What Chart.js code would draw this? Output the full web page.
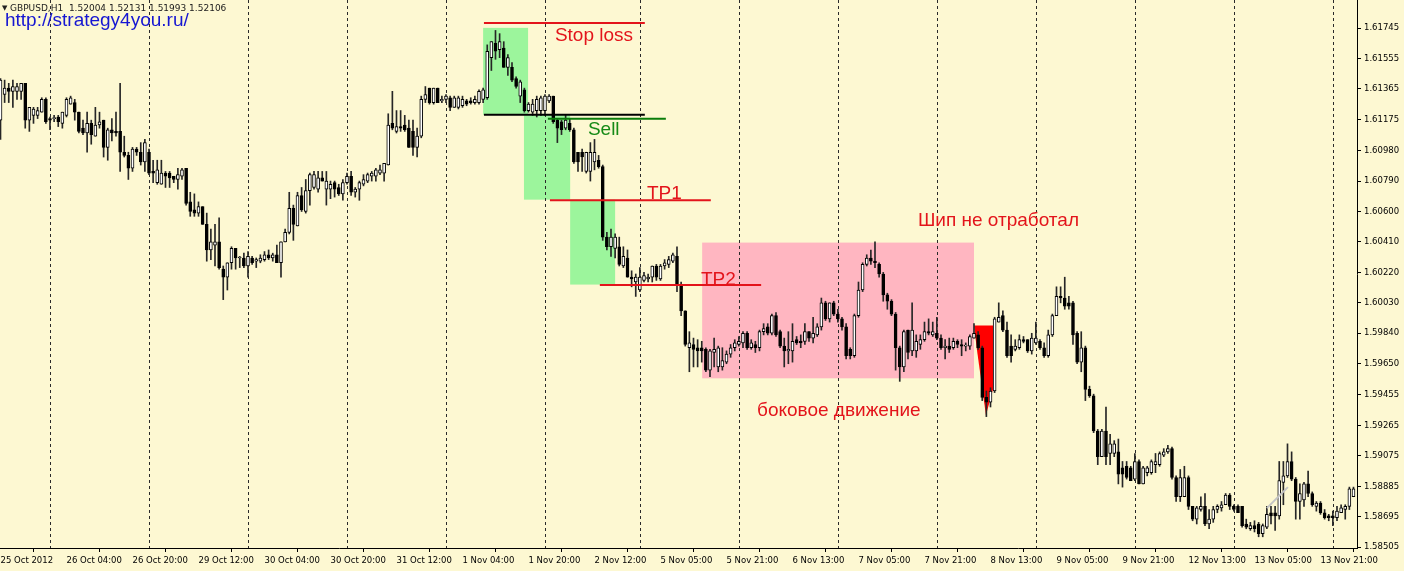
<!DOCTYPE html>
<html>
<head>
<meta charset="utf-8">
<title>GBPUSD H1</title>
<script src="https://cdn.jsdelivr.net/npm/chart.js@4.4.0/dist/chart.umd.min.js"></script>
<style>
  html, body { margin: 0; padding: 0; background: #fdf8d2; }
  #chart { display: block; }
</style>
</head>
<body>
<canvas id="chart" width="1404" height="571"></canvas>
<script>
// --- tick labels ---
const xTickLabels = ['25 Oct 2012', '26 Oct 04:00', '26 Oct 20:00', '29 Oct 12:00', '30 Oct 04:00',
    '30 Oct 20:00', '31 Oct 12:00', '1 Nov 04:00', '1 Nov 20:00', '2 Nov 12:00', '5 Nov 05:00',
    '5 Nov 21:00', '6 Nov 13:00', '7 Nov 05:00', '7 Nov 21:00', '8 Nov 13:00', '9 Nov 05:00',
    '9 Nov 21:00', '12 Nov 13:00', '13 Nov 05:00', '13 Nov 21:00'];
const xTickStep = 16; // one label every 16 hourly bars
const yTickValues = [1.61745, 1.61555, 1.61365, 1.61175, 1.60980, 1.60790, 1.60600, 1.60410, 1.60220,
    1.60030, 1.59840, 1.59650, 1.59455, 1.59265, 1.59075, 1.58885, 1.58695, 1.58505];
// bar index of the first hour of each trading day (dotted separators)
const dayStarts = [12, 36, 60, 84, 108, 132, 155, 179, 203, 227, 251, 275, 299, 323];

// --- GBPUSD H1 candles ---
const openPrices = [
    1.6117,1.6133,1.6137,1.6135,1.6135,1.6135,1.6140,1.6117,1.6120,1.6120,
    1.6122,1.6130,1.6118,1.6118,1.6119,1.6115,1.6120,1.6127,1.6128,1.6122,
    1.6112,1.6109,1.6115,1.6107,1.6114,1.6117,1.6100,1.6111,1.6110,1.6110,
    1.6097,1.6095,1.6087,1.6099,1.6097,1.6091,1.6097,1.6085,1.6078,1.6077,
    1.6084,1.6084,1.6082,1.6080,1.6082,1.6087,1.6066,1.6061,1.6059,1.6063,
    1.6052,1.6036,1.6039,1.6041,1.6024,1.6019,1.6028,1.6037,1.6031,1.6031,
    1.6026,1.6031,1.6029,1.6029,1.6030,1.6033,1.6031,1.6033,1.6028,1.6041,
    1.6047,1.6062,1.6051,1.6070,1.6060,1.6073,1.6075,1.6074,1.6081,1.6074,
    1.6074,1.6078,1.6075,1.6071,1.6078,1.6082,1.6072,1.6074,1.6077,1.6079,
    1.6082,1.6082,1.6084,1.6084,1.6089,1.6115,1.6110,1.6113,1.6114,1.6112,
    1.6110,1.6100,1.6107,1.6130,1.6137,1.6128,1.6137,1.6129,1.6130,1.6131,
    1.6125,1.6125,1.6126,1.6129,1.6129,1.6128,1.6128,1.6130,1.6131,1.6156,
    1.6165,1.6161,1.6162,1.6150,1.6150,1.6143,1.6132,1.6136,1.6123,1.6122,
    1.6123,1.6123,1.6123,1.6129,1.6132,1.6117,1.6116,1.6112,1.6115,1.6111,
    1.6097,1.6097,1.6085,1.6085,1.6091,1.6092,1.6088,1.6044,1.6038,1.6037,
    1.6038,1.6026,1.6031,1.6019,1.6016,1.6011,1.6017,1.6018,1.6019,1.6026,
    1.6018,1.6026,1.6027,1.6029,1.6032,1.6014,1.5998,1.5975,1.5977,1.5975,
    1.5975,1.5974,1.5961,1.5972,1.5963,1.5963,1.5966,1.5971,1.5975,1.5977,
    1.5978,1.5984,1.5975,1.5977,1.5975,1.5985,1.5988,1.5984,1.5995,1.5985,
    1.5976,1.5973,1.5973,1.5980,1.5979,1.5979,1.5985,1.5981,1.5983,1.5988,
    1.6003,1.5993,1.6003,1.5996,1.5993,1.5988,1.5974,1.5970,1.5995,1.6011,
    1.6027,1.6031,1.6029,1.6027,1.6021,1.6008,1.6004,1.5996,1.5975,1.5963,
    1.5986,1.5973,1.5973,1.5977,1.5980,1.5985,1.5983,1.5984,1.5981,1.5975,
    1.5976,1.5975,1.5979,1.5977,1.5976,1.5976,1.5981,1.5983,1.5975,1.5944,
    1.5941,1.5948,1.5991,1.5995,1.5986,1.5976,1.5974,1.5975,1.5980,1.5980,
    1.5973,1.5978,1.5979,1.5975,1.5970,1.5983,1.5995,1.6007,1.6006,1.6003,
    1.6003,1.5984,1.5966,1.5975,1.5949,1.5945,1.5923,1.5907,1.5923,1.5909,
    1.5909,1.5910,1.5900,1.5901,1.5900,1.5893,1.5904,1.5890,1.5897,1.5897,
    1.5902,1.5902,1.5908,1.5910,1.5912,1.5894,1.5882,1.5882,1.5894,1.5876,
    1.5868,1.5874,1.5876,1.5865,1.5868,1.5874,1.5875,1.5877,1.5883,1.5876,
    1.5876,1.5876,1.5865,1.5862,1.5864,1.5865,1.5859,1.5863,1.5872,1.5872,
    1.5870,1.5891,1.5895,1.5904,1.5893,1.5879,1.5880,1.5890,1.5884,1.5876,
    1.5878,1.5872,1.5870,1.5870,1.5869,1.5872,1.5874,1.5876,1.5882
];
const highPrices = [
    1.6143,1.6142,1.6140,1.6142,1.6140,1.6140,1.6140,1.6125,1.6125,1.6125,
    1.6131,1.6131,1.6119,1.6120,1.6120,1.6122,1.6131,1.6132,1.6130,1.6122,
    1.6117,1.6122,1.6117,1.6125,1.6122,1.6117,1.6112,1.6118,1.6122,1.6140,
    1.6107,1.6097,1.6100,1.6100,1.6103,1.6105,1.6099,1.6092,1.6092,1.6092,
    1.6085,1.6085,1.6082,1.6087,1.6087,1.6087,1.6072,1.6071,1.6066,1.6063,
    1.6059,1.6049,1.6052,1.6056,1.6026,1.6028,1.6038,1.6037,1.6032,1.6034,
    1.6035,1.6032,1.6031,1.6033,1.6035,1.6036,1.6034,1.6039,1.6041,1.6049,
    1.6072,1.6064,1.6072,1.6075,1.6080,1.6084,1.6085,1.6085,1.6085,1.6085,
    1.6079,1.6079,1.6077,1.6080,1.6084,1.6085,1.6075,1.6079,1.6083,1.6084,
    1.6085,1.6087,1.6089,1.6090,1.6121,1.6135,1.6123,1.6123,1.6120,1.6117,
    1.6117,1.6112,1.6132,1.6138,1.6137,1.6137,1.6137,1.6132,1.6133,1.6132,
    1.6132,1.6132,1.6132,1.6130,1.6131,1.6132,1.6136,1.6137,1.6164,1.6166,
    1.6173,1.6171,1.6166,1.6158,1.6153,1.6144,1.6142,1.6137,1.6128,1.6130,
    1.6132,1.6132,1.6133,1.6133,1.6132,1.6118,1.6117,1.6120,1.6118,1.6112,
    1.6097,1.6099,1.6097,1.6103,1.6105,1.6095,1.6089,1.6047,1.6049,1.6046,
    1.6044,1.6038,1.6036,1.6023,1.6021,1.6025,1.6022,1.6021,1.6026,1.6027,
    1.6027,1.6030,1.6032,1.6034,1.6038,1.6016,1.5998,1.5985,1.5981,1.5980,
    1.5979,1.5975,1.5974,1.5981,1.5976,1.5975,1.5973,1.5977,1.5980,1.5982,
    1.5985,1.5985,1.5980,1.5979,1.5986,1.5990,1.5990,1.5996,1.5997,1.5986,
    1.5981,1.5985,1.5990,1.5982,1.5983,1.5990,1.5985,1.5994,1.5990,1.6006,
    1.6004,1.6003,1.6004,1.5999,1.5994,1.5990,1.5975,1.5996,1.6016,1.6028,
    1.6033,1.6036,1.6041,1.6028,1.6022,1.6009,1.6005,1.5997,1.5976,1.5986,
    1.5986,1.6003,1.5983,1.5983,1.5991,1.5993,1.5991,1.5994,1.5983,1.5980,
    1.5981,1.5981,1.5980,1.5980,1.5978,1.5983,1.5990,1.5985,1.5976,1.5948,
    1.5950,1.5994,1.6003,1.5998,1.5991,1.5983,1.5980,1.5983,1.5982,1.5980,
    1.5984,1.5991,1.5980,1.5978,1.5986,1.5996,1.6013,1.6013,1.6019,1.6007,
    1.6004,1.5985,1.5985,1.5976,1.5951,1.5946,1.5924,1.5924,1.5938,1.5921,
    1.5917,1.5918,1.5904,1.5904,1.5901,1.5909,1.5905,1.5901,1.5901,1.5905,
    1.5909,1.5910,1.5912,1.5914,1.5913,1.5895,1.5899,1.5901,1.5895,1.5876,
    1.5876,1.5882,1.5884,1.5874,1.5876,1.5877,1.5879,1.5884,1.5884,1.5877,
    1.5877,1.5876,1.5868,1.5866,1.5867,1.5866,1.5865,1.5876,1.5876,1.5876,
    1.5904,1.5904,1.5915,1.5910,1.5894,1.5890,1.5891,1.5898,1.5885,1.5879,
    1.5879,1.5874,1.5871,1.5873,1.5876,1.5877,1.5877,1.5888,1.5888
];
const lowPrices = [
    1.6105,1.6128,1.6128,1.6125,1.6130,1.6130,1.6112,1.6110,1.6115,1.6118,
    1.6122,1.6115,1.6111,1.6116,1.6113,1.6112,1.6119,1.6127,1.6117,1.6109,
    1.6108,1.6097,1.6102,1.6107,1.6112,1.6094,1.6092,1.6104,1.6107,1.6085,
    1.6094,1.6080,1.6085,1.6095,1.6089,1.6085,1.6083,1.6078,1.6077,1.6077,
    1.6075,1.6075,1.6078,1.6074,1.6080,1.6064,1.6057,1.6057,1.6057,1.6052,
    1.6029,1.6030,1.6026,1.6024,1.6005,1.6011,1.6024,1.6024,1.6025,1.6025,
    1.6019,1.6027,1.6025,1.6028,1.6029,1.6030,1.6029,1.6028,1.6019,1.6041,
    1.6046,1.6042,1.6051,1.6060,1.6059,1.6064,1.6074,1.6072,1.6079,1.6064,
    1.6068,1.6069,1.6070,1.6067,1.6077,1.6070,1.6069,1.6067,1.6076,1.6078,
    1.6079,1.6079,1.6083,1.6079,1.6089,1.6111,1.6109,1.6110,1.6110,1.6100,
    1.6095,1.6094,1.6106,1.6128,1.6127,1.6127,1.6128,1.6128,1.6128,1.6123,
    1.6125,1.6124,1.6125,1.6126,1.6127,1.6127,1.6127,1.6128,1.6130,1.6148,
    1.6155,1.6156,1.6150,1.6145,1.6141,1.6137,1.6128,1.6122,1.6122,1.6120,
    1.6119,1.6120,1.6120,1.6128,1.6115,1.6103,1.6108,1.6111,1.6110,1.6090,
    1.6085,1.6085,1.6084,1.6079,1.6086,1.6087,1.6042,1.6036,1.6032,1.6031,
    1.6026,1.6025,1.6019,1.6013,1.6007,1.6010,1.6016,1.6016,1.6016,1.6017,
    1.6017,1.6024,1.6025,1.6028,1.6010,1.5995,1.5976,1.5960,1.5963,1.5963,
    1.5966,1.5960,1.5957,1.5963,1.5960,1.5961,1.5965,1.5969,1.5973,1.5976,
    1.5975,1.5974,1.5974,1.5972,1.5973,1.5983,1.5983,1.5983,1.5982,1.5975,
    1.5963,1.5965,1.5966,1.5977,1.5975,1.5977,1.5979,1.5978,1.5982,1.5986,
    1.5992,1.5991,1.5995,1.5991,1.5986,1.5968,1.5968,1.5969,1.5994,1.6010,
    1.6026,1.6027,1.6025,1.6019,1.6004,1.5999,1.5995,1.5961,1.5954,1.5960,
    1.5968,1.5970,1.5969,1.5974,1.5979,1.5983,1.5982,1.5980,1.5974,1.5968,
    1.5972,1.5974,1.5975,1.5970,1.5973,1.5974,1.5981,1.5974,1.5942,1.5932,
    1.5938,1.5947,1.5991,1.5985,1.5969,1.5966,1.5973,1.5974,1.5978,1.5972,
    1.5971,1.5977,1.5974,1.5969,1.5969,1.5982,1.5995,1.6003,1.5999,1.5999,
    1.5977,1.5965,1.5960,1.5942,1.5944,1.5922,1.5902,1.5907,1.5902,1.5902,
    1.5907,1.5890,1.5888,1.5893,1.5892,1.5892,1.5890,1.5890,1.5895,1.5896,
    1.5897,1.5901,1.5907,1.5909,1.5893,1.5879,1.5879,1.5882,1.5874,1.5867,
    1.5865,1.5873,1.5864,1.5862,1.5866,1.5872,1.5873,1.5877,1.5874,1.5873,
    1.5872,1.5863,1.5862,1.5861,1.5860,1.5857,1.5857,1.5862,1.5865,1.5861,
    1.5868,1.5877,1.5894,1.5892,1.5868,1.5868,1.5876,1.5882,1.5876,1.5873,
    1.5871,1.5868,1.5867,1.5864,1.5867,1.5872,1.5868,1.5874,1.5882
];
const closePrices = [
    1.6142,1.6137,1.6135,1.6138,1.6138,1.6140,1.6117,1.6125,1.6124,1.6123,
    1.6130,1.6116,1.6117,1.6118,1.6116,1.6122,1.6130,1.6131,1.6122,1.6110,
    1.6109,1.6115,1.6108,1.6114,1.6116,1.6100,1.6111,1.6109,1.6109,1.6097,
    1.6095,1.6087,1.6099,1.6097,1.6091,1.6103,1.6084,1.6084,1.6086,1.6084,
    1.6082,1.6081,1.6080,1.6083,1.6086,1.6065,1.6060,1.6059,1.6063,1.6052,
    1.6036,1.6041,1.6041,1.6025,1.6019,1.6028,1.6037,1.6031,1.6031,1.6026,
    1.6032,1.6028,1.6030,1.6031,1.6033,1.6031,1.6033,1.6028,1.6041,1.6047,
    1.6062,1.6052,1.6070,1.6061,1.6073,1.6083,1.6083,1.6081,1.6079,1.6079,
    1.6077,1.6074,1.6071,1.6078,1.6082,1.6072,1.6074,1.6078,1.6080,1.6083,
    1.6084,1.6086,1.6086,1.6090,1.6114,1.6112,1.6113,1.6112,1.6111,1.6100,
    1.6100,1.6107,1.6130,1.6133,1.6128,1.6137,1.6128,1.6130,1.6132,1.6125,
    1.6131,1.6131,1.6130,1.6127,1.6128,1.6130,1.6135,1.6136,1.6160,1.6166,
    1.6160,1.6166,1.6150,1.6156,1.6142,1.6138,1.6141,1.6123,1.6127,1.6127,
    1.6130,1.6131,1.6132,1.6132,1.6116,1.6112,1.6111,1.6117,1.6111,1.6091,
    1.6091,1.6094,1.6097,1.6097,1.6097,1.6088,1.6044,1.6038,1.6044,1.6044,
    1.6027,1.6032,1.6019,1.6018,1.6019,1.6019,1.6020,1.6019,1.6026,1.6019,
    1.6026,1.6028,1.6030,1.6033,1.6014,1.5998,1.5977,1.5978,1.5974,1.5973,
    1.5973,1.5961,1.5973,1.5974,1.5975,1.5967,1.5971,1.5975,1.5978,1.5979,
    1.5984,1.5975,1.5978,1.5975,1.5985,1.5987,1.5984,1.5995,1.5983,1.5976,
    1.5973,1.5974,1.5979,1.5978,1.5978,1.5985,1.5981,1.5984,1.5988,1.6003,
    1.5993,1.6003,1.5996,1.5993,1.5988,1.5970,1.5970,1.5995,1.6011,1.6027,
    1.6031,1.6029,1.6028,1.6021,1.6008,1.6004,1.5996,1.5975,1.5963,1.5985,
    1.5972,1.5986,1.5979,1.5980,1.5985,1.5984,1.5985,1.5981,1.5975,1.5976,
    1.5974,1.5979,1.5977,1.5976,1.5976,1.5982,1.5984,1.5975,1.5944,1.5941,
    1.5948,1.5993,1.5994,1.5986,1.5970,1.5970,1.5976,1.5980,1.5979,1.5973,
    1.5981,1.5981,1.5975,1.5970,1.5983,1.5995,1.6007,1.6006,1.6001,1.6001,
    1.5983,1.5966,1.5975,1.5949,1.5945,1.5923,1.5907,1.5923,1.5907,1.5915,
    1.5915,1.5896,1.5896,1.5894,1.5892,1.5904,1.5890,1.5900,1.5900,1.5904,
    1.5904,1.5909,1.5910,1.5912,1.5894,1.5882,1.5894,1.5894,1.5876,1.5868,
    1.5875,1.5876,1.5865,1.5868,1.5874,1.5876,1.5877,1.5883,1.5876,1.5874,
    1.5872,1.5864,1.5863,1.5864,1.5862,1.5859,1.5864,1.5871,1.5870,1.5870,
    1.5892,1.5895,1.5904,1.5893,1.5879,1.5884,1.5890,1.5884,1.5877,1.5878,
    1.5872,1.5869,1.5869,1.5869,1.5873,1.5875,1.5876,1.5887,1.5887
];

// --- drawn objects on the chart (bar index / price) ---
const zones = [
    { from: 117.0, to: 127.9, top: 1.61746, bottom: 1.61204, color: '#9cf59c' },
    { from: 126.9, to: 138.1, top: 1.61204, bottom: 1.60674, color: '#9cf59c' },
    { from: 138.1, to: 149.0, top: 1.60674, bottom: 1.60144, color: '#9cf59c' },
    { from: 170.1, to: 236.0, top: 1.60406, bottom: 1.59559, color: '#ffb6c1' }
];
const spikeShape = [[236.0, 1.59889], [240.85, 1.59889], [240.6, 1.59490], [238.9, 1.59328], [236.7, 1.59740]];
const levels = [
    { from: 117.2, to: 156.2, price: 1.61777, color: '#e3141b' },   // stop loss
    { from: 117.2, to: 156.2, price: 1.61204, color: '#000000' },   // entry
    { from: 132.7, to: 161.3, price: 1.61179, color: '#0a7d0a' },   // sell
    { from: 133.2, to: 172.2, price: 1.60671, color: '#e3141b' },   // TP1
    { from: 145.3, to: 184.4, price: 1.60141, color: '#e3141b' }    // TP2
];
const trendLine = [[307.0, 1.58749], [312.1, 1.58880]];
const notes = [
    { text: 'Stop loss', at: 134.4, price: 1.61665, color: '#e3141b' },
    { text: 'Sell', at: 142.4, price: 1.61079, color: '#168a16' },
    { text: 'TP1', at: 156.7, price: 1.60680, color: '#e3141b' },
    { text: 'TP2', at: 169.8, price: 1.60144, color: '#e3141b' },
    { text: 'Шип не отработал', at: 222.4, price: 1.60512, color: '#e3141b' },
    { text: 'боковое движение', at: 183.4, price: 1.59322, color: '#e3141b' }
];

const BG = '#fdf8d2';
const tickFont = { family: '"DejaVu Sans", Verdana, sans-serif', size: 8.5 };

const idx = openPrices.map((_, i) => i);
const isUp = idx.map(i => closePrices[i] >= openPrices[i]);

const overlayPlugin = {
    id: 'overlay',
    beforeDraw(chart) {
        const ctx = chart.ctx;
        ctx.save();
        ctx.fillStyle = BG;
        ctx.fillRect(0, 0, chart.width, chart.height);
        ctx.restore();
    },
    beforeDatasetsDraw(chart) {
        const { ctx, chartArea: area, scales: { x, y } } = chart;
        ctx.save();
        zones.forEach(z => {
            const x0 = x.getPixelForValue(z.from), x1 = x.getPixelForValue(z.to);
            const y0 = y.getPixelForValue(z.top), y1 = y.getPixelForValue(z.bottom);
            ctx.fillStyle = z.color;
            ctx.fillRect(x0, y0, x1 - x0, y1 - y0);
        });
        ctx.fillStyle = '#ff0000';
        ctx.beginPath();
        spikeShape.forEach((p, k) => {
            const px = x.getPixelForValue(p[0]), py = y.getPixelForValue(p[1]);
            if (k === 0) ctx.moveTo(px, py); else ctx.lineTo(px, py);
        });
        ctx.closePath();
        ctx.fill();

        // dotted day separators
        ctx.strokeStyle = '#2a2a2a';
        ctx.lineWidth = 1;
        ctx.setLineDash([3, 3]);
        dayStarts.forEach(i => {
            const xp = Math.round(x.getPixelForValue(i)) + 0.5;
            ctx.beginPath();
            ctx.moveTo(xp, area.top);
            ctx.lineTo(xp, area.bottom);
            ctx.stroke();
        });
        ctx.restore();
    },
    afterDatasetsDraw(chart) {
        const { ctx, scales: { x, y } } = chart;
        ctx.save();
        levels.forEach(l => {
            const yp = y.getPixelForValue(l.price);
            ctx.strokeStyle = l.color;
            ctx.lineWidth = 2;
            ctx.beginPath();
            ctx.moveTo(x.getPixelForValue(l.from), yp);
            ctx.lineTo(x.getPixelForValue(l.to), yp);
            ctx.stroke();
        });
        ctx.strokeStyle = '#c4c4c4';
        ctx.lineWidth = 2;
        ctx.beginPath();
        ctx.moveTo(x.getPixelForValue(trendLine[0][0]), y.getPixelForValue(trendLine[0][1]));
        ctx.lineTo(x.getPixelForValue(trendLine[1][0]), y.getPixelForValue(trendLine[1][1]));
        ctx.stroke();

        ctx.font = '19px "Liberation Sans", Arial, sans-serif';
        ctx.textAlign = 'left';
        ctx.textBaseline = 'alphabetic';
        notes.forEach(n => {
            ctx.fillStyle = n.color;
            ctx.fillText(n.text, x.getPixelForValue(n.at), y.getPixelForValue(n.price));
        });
        ctx.restore();
    },
    afterDraw(chart) {
        const ctx = chart.ctx;
        ctx.save();
        ctx.fillStyle = '#202020';
        ctx.font = '7px "DejaVu Sans", sans-serif';
        ctx.textBaseline = 'alphabetic';
        ctx.fillText('▼', 2, 10);
        ctx.font = '9px "DejaVu Sans", Verdana, sans-serif';
        ctx.fillText('GBPUSD,H1  1.52004 1.52131 1.51993 1.52106', 10, 11);
        ctx.fillStyle = '#1616d2';
        ctx.font = '19px "Liberation Sans", Arial, sans-serif';
        ctx.fillText('http://strategy4you.ru/', 5, 26);
        ctx.restore();
    }
};

new Chart(document.getElementById('chart').getContext('2d'), {
    type: 'bar',
    data: {
        datasets: [{
            label: 'wick',
            data: idx.map(i => ({ x: i, y: [lowPrices[i], highPrices[i]] })),
            backgroundColor: '#262626',
            borderWidth: 0,
            barThickness: 1,
            grouped: false,
            order: 2
        }, {
            label: 'body',
            data: idx.map(i => ({ x: i, y: [openPrices[i], closePrices[i]] })),
            backgroundColor: idx.map(i => isUp[i] ? '#ffffff' : '#000000'),
            borderColor: '#000000',
            borderWidth: 1,
            borderSkipped: false,
            barThickness: 3,
            minBarLength: 1,
            grouped: false,
            order: 1
        }]
    },
    options: {
        responsive: false,
        animation: false,
        events: [],
        layout: { padding: 0 },
        plugins: { legend: { display: false }, tooltip: { enabled: false }, title: { display: false } },
        scales: {
            x: {
                type: 'linear',
                position: 'bottom',
                min: -0.12,
                max: 328.85,
                offset: false,
                grid: { display: true, drawOnChartArea: false, drawTicks: true, tickLength: 4, color: '#000' },
                border: { display: true, color: '#000', width: 1 },
                ticks: {
                    autoSkip: false,
                    maxRotation: 0,
                    align: 'start',
                    padding: 4,
                    color: '#000',
                    font: tickFont,
                    callback: (value, index) => xTickLabels[index]
                },
                afterBuildTicks: scale => {
                    scale.ticks = xTickLabels.map((_, k) => ({ value: k * xTickStep }));
                },
                afterFit: scale => {
                    scale.height = 23;
                    scale.paddingLeft = 0;
                    scale.paddingRight = 0;
                }
            },
            y: {
                type: 'linear',
                position: 'right',
                min: 1.5850,
                max: 1.6192,
                grid: { display: true, drawOnChartArea: false, drawTicks: true, tickLength: 4, color: '#000' },
                border: { display: true, color: '#000', width: 1 },
                ticks: {
                    padding: 3,
                    color: '#000',
                    font: tickFont,
                    callback: value => Number(value).toFixed(5)
                },
                afterBuildTicks: scale => {
                    scale.ticks = yTickValues.map(v => ({ value: v }));
                },
                afterFit: scale => {
                    scale.width = 47;
                    scale.paddingTop = 0;
                    scale.paddingBottom = 0;
                }
            }
        }
    },
    plugins: [overlayPlugin]
});
</script>
</body>
</html>
